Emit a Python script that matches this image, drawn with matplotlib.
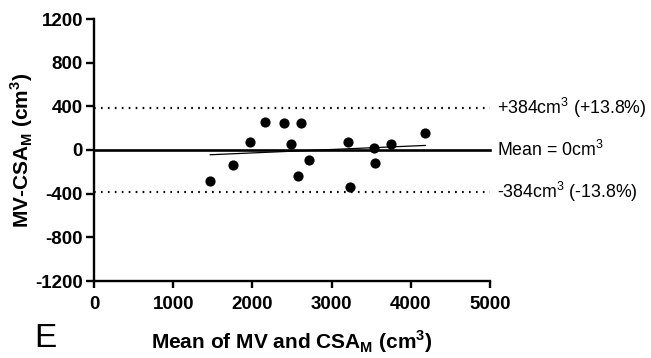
import matplotlib
matplotlib.use('Agg')
import matplotlib.pyplot as plt
import numpy as np

plt.rcParams['font.family'] = ['Liberation Sans', 'DejaVu Sans']
plt.rcParams['mathtext.fontset'] = 'custom'
plt.rcParams['mathtext.rm'] = 'Liberation Sans'
plt.rcParams['mathtext.bf'] = 'Liberation Sans:bold'
plt.rcParams['lines.scale_dashes'] = False
plt.rcParams['axes.unicode_minus'] = False

# Valores (média x diferença)
mean_vals = [1468, 1759, 1970, 2155, 2395, 2618, 2483, 2711, 2576,
             3207, 3540, 3548, 3750, 4183, 3232]
diff_vals = [-284, -137, 73, 259, 244, 244, 52, -94, -238,
             76, 15, -122, 58, 156, -339]
bias = 0
loa = 384
loa_pct = 13.8

x = np.array(mean_vals)
y = np.array(diff_vals)

fig = plt.figure(figsize=(6.51, 3.58), dpi=100)
ax = fig.add_axes([94/651, 1 - 281/358, (490 - 94)/651, (281 - 19)/358])

ax.scatter(x, y, s=40, color='black', zorder=5)

# Linha de regressão
coef = np.polyfit(x, y, 1)
xr = np.array([x.min(), x.max()])
ax.plot(xr, np.polyval(coef, xr), color='black', lw=0.9)

# Média e limites de concordância
ax.plot([0, 5000], [bias, bias], color='black', lw=1.9, clip_on=False)
ax.plot([0, 5000], [loa, loa], color='black', lw=1.6,
        linestyle=(0, (1.2, 3.8)), clip_on=False)
ax.plot([0, 5000], [-loa, -loa], color='black', lw=1.6,
        linestyle=(0, (1.2, 3.8)), clip_on=False)

fs_ann = 12.8
ax.annotate(rf'+{loa}cm$^\mathrm{{3}}$ (+{loa_pct}%)', (5000, loa),
            xytext=(5, 0), textcoords='offset points', va='center', ha='left',
            fontsize=fs_ann, annotation_clip=False)
ax.annotate(rf'Mean = {bias}cm$^\mathrm{{3}}$', (5000, bias),
            xytext=(5, 0), textcoords='offset points', va='center', ha='left',
            fontsize=fs_ann, annotation_clip=False)
ax.annotate(rf'-{loa}cm$^\mathrm{{3}}$ (-{loa_pct}%)', (5000, -loa),
            xytext=(5, 0), textcoords='offset points', va='center', ha='left',
            fontsize=fs_ann, annotation_clip=False)

ax.set_xlim(0, 5000)
ax.set_ylim(-1200, 1200)
ax.set_xticks([0, 1000, 2000, 3000, 4000, 5000])
ax.set_yticks([-1200, -800, -400, 0, 400, 800, 1200])

for s in ['top', 'right']:
    ax.spines[s].set_visible(False)
for s in ['left', 'bottom']:
    ax.spines[s].set_linewidth(1.7)

ax.tick_params(axis='y', length=6, width=1.7, pad=2, labelsize=13.5)
ax.tick_params(axis='x', length=5, width=1.7, pad=6, labelsize=13.5)
for lab in ax.get_xticklabels() + ax.get_yticklabels():
    lab.set_fontweight('bold')

ax.set_xlabel(r'Mean of MV and CSA$_\mathbf{M}$ (cm$^\mathbf{3}$)',
              fontsize=15, fontweight='bold')
ax.set_ylabel(r'MV-CSA$_\mathbf{M}$ (cm$^\mathbf{3}$)',
              fontsize=15, fontweight='bold')
ax.xaxis.set_label_coords(0.5, -(349 - 281) / 262, transform=ax.transAxes)
ax.xaxis.label.set_va('baseline')
ax.yaxis.set_label_coords(-(94 - 22) / 396, 0.5)
ax.yaxis.label.set_va('center')

fig.text(34/651, 1 - 347/358, 'E', fontsize=24, ha='left', va='baseline')

fig.savefig('out.png', dpi=100)
